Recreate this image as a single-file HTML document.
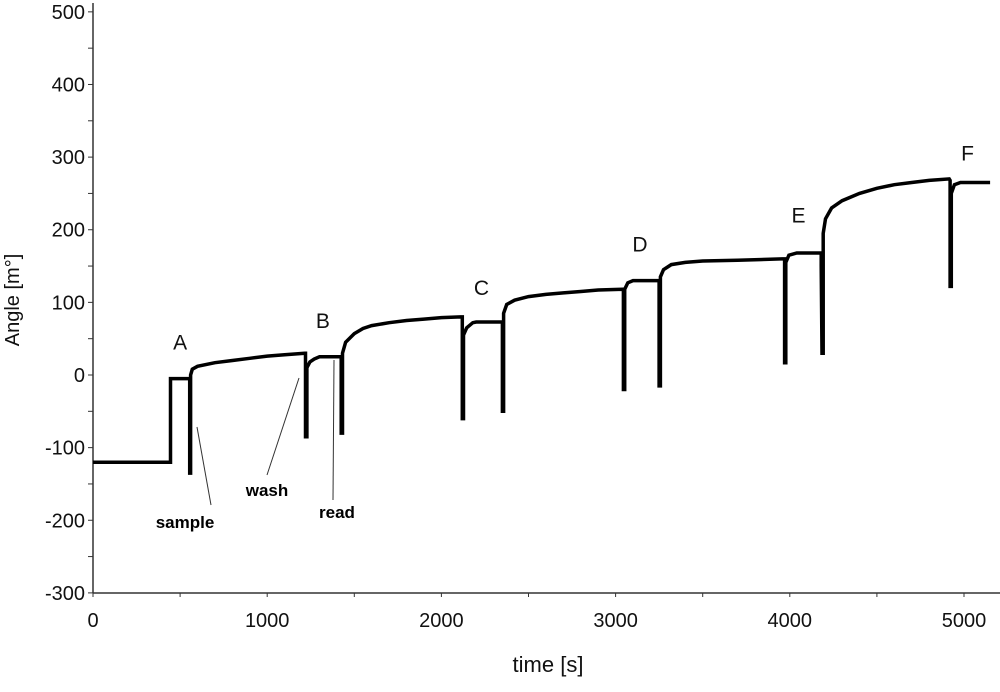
<!DOCTYPE html>
<html><head><meta charset="utf-8"><style>
body{margin:0;background:#fff;}
svg text{font-family:"Liberation Sans",Arial,sans-serif;}
</style></head><body>
<svg id="chart" width="1000" height="687" viewBox="0 0 1000 687" xmlns="http://www.w3.org/2000/svg">
<g id="axes"></g>
<g id="marks"></g>
<g id="notes"></g>
</svg>
<script>
const xTicks=[0,1000,2000,3000,4000,5000];
const yTicks=[-300,-200,-100,0,100,200,300,400,500];
const times=[0,445,445,555,555,560,560,570,600,700,800,900,1000,1100,1215,1220,1220,1228,1228,1245,1270,1300,1425,1425,1432,1432,1450,1500,1550,1600,1700,1800,1900,2000,2110,2120,2120,2127,2127,2145,2180,2200,2350,2350,2357,2357,2375,2420,2500,2600,2700,2800,2900,3040,3045,3045,3052,3052,3070,3100,3250,3250,3257,3257,3275,3320,3400,3500,3700,3970,3970,3977,3977,3995,4040,4180,4180,4185,4192,4192,4205,4240,4300,4400,4500,4600,4700,4800,4915,4920,4920,4927,4927,4945,4980,5150];
const angles=[-120,-120,-5,-5,-135,-135,0,8,12,17,20,23,26,28,30,30,-85,-85,10,18,22,25,25,-80,-80,30,45,57,64,68,72,75,77,79,80,80,-60,-60,55,65,72,73,73,-50,-50,85,97,103,108,111,113,115,117,118,118,-20,-20,118,127,130,130,-15,-15,135,145,152,155,157,158,160,17,17,155,165,168,168,150,30,30,195,215,230,240,250,257,262,265,268,270,268,122,122,250,262,265,265];
const stepLabels=["A","B","C","D","E","F"];
const stepTimes=[500,1320,2230,3140,4050,5020];
const stepAngles=[35,65,110,170,210,295];

const X=t=>93+t*0.1742, Y=v=>375-v*0.7263;
const NS="http://www.w3.org/2000/svg";
function mk(parent,tag,attrs){const e=document.createElementNS(NS,tag);for(const k in attrs)e.setAttribute(k,attrs[k]);parent.appendChild(e);return e;}
const axes=document.getElementById('axes'),marks=document.getElementById('marks'),notes=document.getElementById('notes');

let a=mk(axes,'line',{x1:93,y1:3,x2:93,y2:593,stroke:'#333','stroke-width':1.5});

a=mk(axes,'line',{x1:93,y1:593,x2:1000,y2:593,stroke:'#333','stroke-width':1.5});

for(let v=-300;v<=500;v+=50){const t=mk(axes,'line',{x1:88,y1:Y(v),x2:93,y2:Y(v),stroke:'#333','stroke-width':1});
}
for(let v=0;v<=5000;v+=500){const t=mk(axes,'line',{x1:X(v),y1:593,x2:X(v),y2:597,stroke:'#333','stroke-width':1});
}
yTicks.forEach(v=>{const t=mk(axes,'text',{x:85,y:Y(v)+7,'text-anchor':'end','font-size':20,fill:'#111'});t.textContent=v;
});
xTicks.forEach(v=>{const t=mk(axes,'text',{x:X(v),y:627,'text-anchor':'middle','font-size':20,fill:'#111'});t.textContent=v;
});
let tt=mk(axes,'text',{x:548,y:672,'text-anchor':'middle','font-size':22,fill:'#111'});tt.textContent='time [s]';

tt=mk(axes,'text',{x:0,y:0,'text-anchor':'middle','font-size':20,fill:'#111',transform:'translate(19,300) rotate(-90)'});tt.textContent='Angle [m°]';


const pts=times.map((t,i)=>X(t).toFixed(1)+','+Y(angles[i]).toFixed(1)).join(' ');
const pl=mk(marks,'polyline',{points:pts,fill:'none',stroke:'#000','stroke-width':3.5,'stroke-linejoin':'miter'});


stepLabels.forEach((s,i)=>{const t=mk(notes,'text',{x:X(stepTimes[i]),y:Y(stepAngles[i]),'text-anchor':'middle','font-size':21,fill:'#111'});t.textContent=s;
});
[[197,427,211,505,'sample',185,528],[299,378,267,475,'wash',267,496],[334,360,333,500,'read',337,518]].forEach(d=>{
const l=mk(notes,'line',{x1:d[0],y1:d[1],x2:d[2],y2:d[3],stroke:'#333','stroke-width':1});

const t=mk(notes,'text',{x:d[5],y:d[6],'text-anchor':'middle','font-size':17,'font-weight':'bold',fill:'#000'});t.textContent=d[4];
});
</script>
</body></html>
